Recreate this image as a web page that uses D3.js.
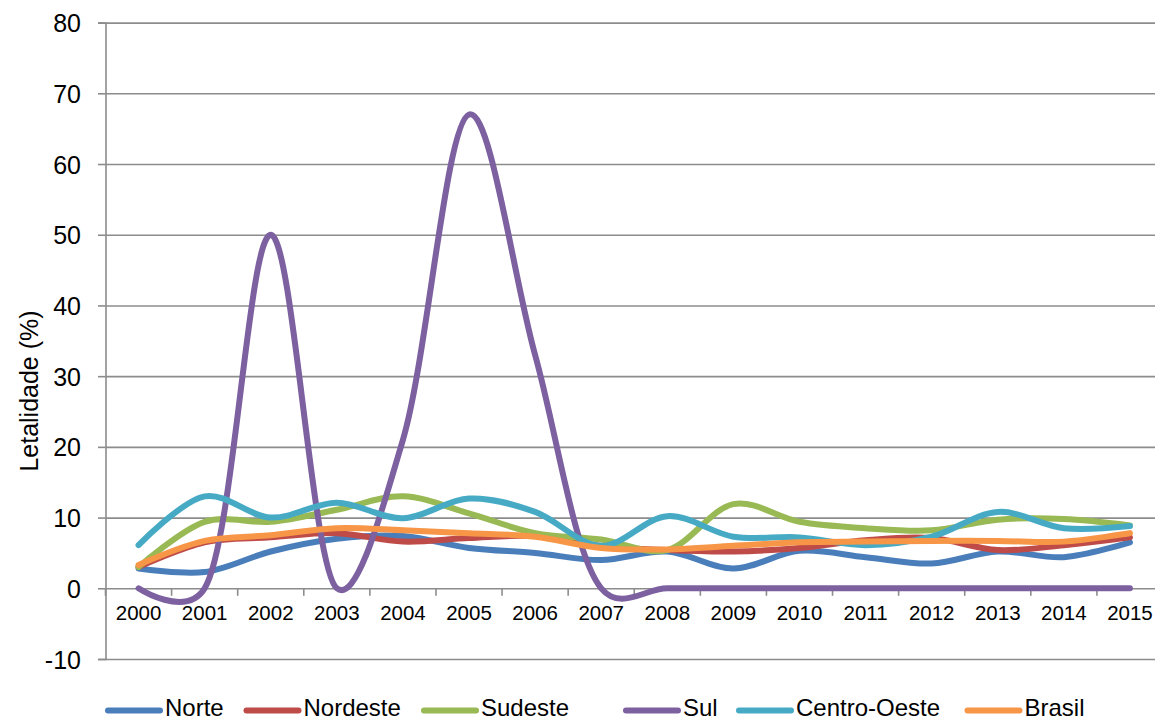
<!DOCTYPE html>
<html>
<head>
<meta charset="utf-8">
<script src="https://cdn.jsdelivr.net/npm/d3@7"></script>
<style>
  html, body { margin: 0; padding: 0; background: #fff; }
  svg { display: block; font-family: "Liberation Sans", Arial, sans-serif; }
</style>
</head>
<body>
<svg id="chart" width="1155" height="720"></svg>
<script>
// Letalidade (%) por região, 2000–2015
const years = ["2000","2001","2002","2003","2004","2005","2006","2007","2008","2009","2010","2011","2012","2013","2014","2015"];
const norte       = [2.8, 2.3, 5.2, 7.0, 7.4, 5.7, 5.0, 4.0, 5.2, 2.8, 5.3, 4.4, 3.5, 5.2, 4.4, 6.5];
const nordeste    = [3.0, 6.5, 7.2, 7.8, 6.6, 7.1, 7.4, 6.0, 5.4, 5.2, 5.7, 6.8, 7.1, 5.4, 6.1, 7.2];
const sudeste     = [3.0, 9.4, 9.4, 11.1, 13.0, 10.6, 7.8, 6.9, 5.4, 11.9, 9.4, 8.5, 8.2, 9.7, 9.8, 8.9];
const sul         = [0, 0, 50, 0, 21, 67, 33, 0, 0, 0, 0, 0, 0, 0, 0, 0];
const centroOeste = [6.1, 13.0, 10.0, 12.1, 9.9, 12.7, 10.8, 6.0, 10.2, 7.3, 7.2, 6.1, 7.3, 10.8, 8.5, 8.8];
const brasil      = [3.3, 6.7, 7.5, 8.5, 8.2, 7.8, 7.3, 5.7, 5.5, 6.0, 6.5, 6.6, 6.7, 6.7, 6.6, 7.8];

const seriesNames  = ["Norte", "Nordeste", "Sudeste", "Sul", "Centro-Oeste", "Brasil"];
const seriesValues = [norte, nordeste, sudeste, sul, centroOeste, brasil];
const seriesColors = ["#4A7EBB", "#BE4B48", "#98B954", "#7D60A0", "#46AAC5", "#F79646"];
const yTicks = [-10, 0, 10, 20, 30, 40, 50, 60, 70, 80];

const svg = d3.select("#chart");
const gridColor = "#8c8c8c";

const x = d3.scaleBand().domain(years).range([105.5, 1163]);
const y = d3.scaleLinear().domain([-10, 80]).range([659, 22.6]);

// horizontal gridlines with short outer ticks
const yAxis = d3.axisLeft(y).tickValues(yTicks).tickSize(7.5).tickFormat(d => String(d));
const gy = svg.append("g").attr("transform", "translate(105.5,0)").call(yAxis);
gy.select(".domain").attr("stroke", gridColor).attr("stroke-width", 1.6);
gy.selectAll(".tick line").attr("stroke", gridColor).attr("stroke-width", 1.6);
gy.selectAll(".tick text")
  .attr("x", -24.5)
  .attr("dy", "0.36em")
  .attr("font-size", 25)
  .attr("fill", "#000")
  .attr("font-family", "Liberation Sans, Arial, sans-serif");
gy.selectAll(".tick").append("line")
  .attr("x1", 0).attr("x2", 1155 - 105.5)
  .attr("stroke", gridColor).attr("stroke-width", 1.6);

// category axis sitting on zero
const xAxis = d3.axisBottom(x).tickSize(0);
const gx = svg.append("g").attr("transform", `translate(0,${y(0)})`).call(xAxis);
gx.select(".domain").remove();
gx.selectAll(".tick text")
  .attr("y", 31.5)
  .attr("dy", 0)
  .attr("font-size", 20.5)
  .attr("fill", "#000")
  .attr("font-family", "Liberation Sans, Arial, sans-serif");
// tick marks between categories
const bounds = years.map(d => x(d)).concat([x(years[years.length - 1]) + x.bandwidth()]);
gx.selectAll("line.sep").data(bounds).join("line")
  .attr("class", "sep")
  .attr("x1", d => d).attr("x2", d => d)
  .attr("y1", 0).attr("y2", 7.5)
  .attr("stroke", gridColor).attr("stroke-width", 1.6);

// smoothed series lines
const line = d3.line()
  .x((d, i) => x(years[i]) + x.bandwidth() / 2)
  .y(d => y(d))
  .curve(d3.curveCatmullRom.alpha(0.25));

svg.append("g").selectAll("path").data(seriesValues).join("path")
  .attr("d", d => line(d))
  .attr("fill", "none")
  .attr("stroke", (d, i) => seriesColors[i])
  .attr("stroke-width", 6)
  .attr("stroke-linecap", "round")
  .attr("stroke-linejoin", "round");

// y-axis title
svg.append("text")
  .attr("transform", "translate(38,391) rotate(-90)")
  .attr("text-anchor", "middle")
  .attr("font-size", 25)
  .attr("fill", "#000")
  .text("Letalidade (%)");

// legend
const legendX = [108, 246.5, 424, 626, 739, 967.5];
const lg = svg.append("g").selectAll("g").data(seriesNames).join("g")
  .attr("transform", (d, i) => `translate(${legendX[i]},710.5)`);
lg.append("line")
  .attr("x1", 0).attr("x2", 52)
  .attr("stroke", (d, i) => seriesColors[i])
  .attr("stroke-width", 6)
  .attr("stroke-linecap", "round");
lg.append("text")
  .attr("x", 57)
  .attr("y", 5.5)
  .attr("font-size", 24)
  .attr("fill", "#000")
  .text(d => d);
</script>
</body>
</html>
